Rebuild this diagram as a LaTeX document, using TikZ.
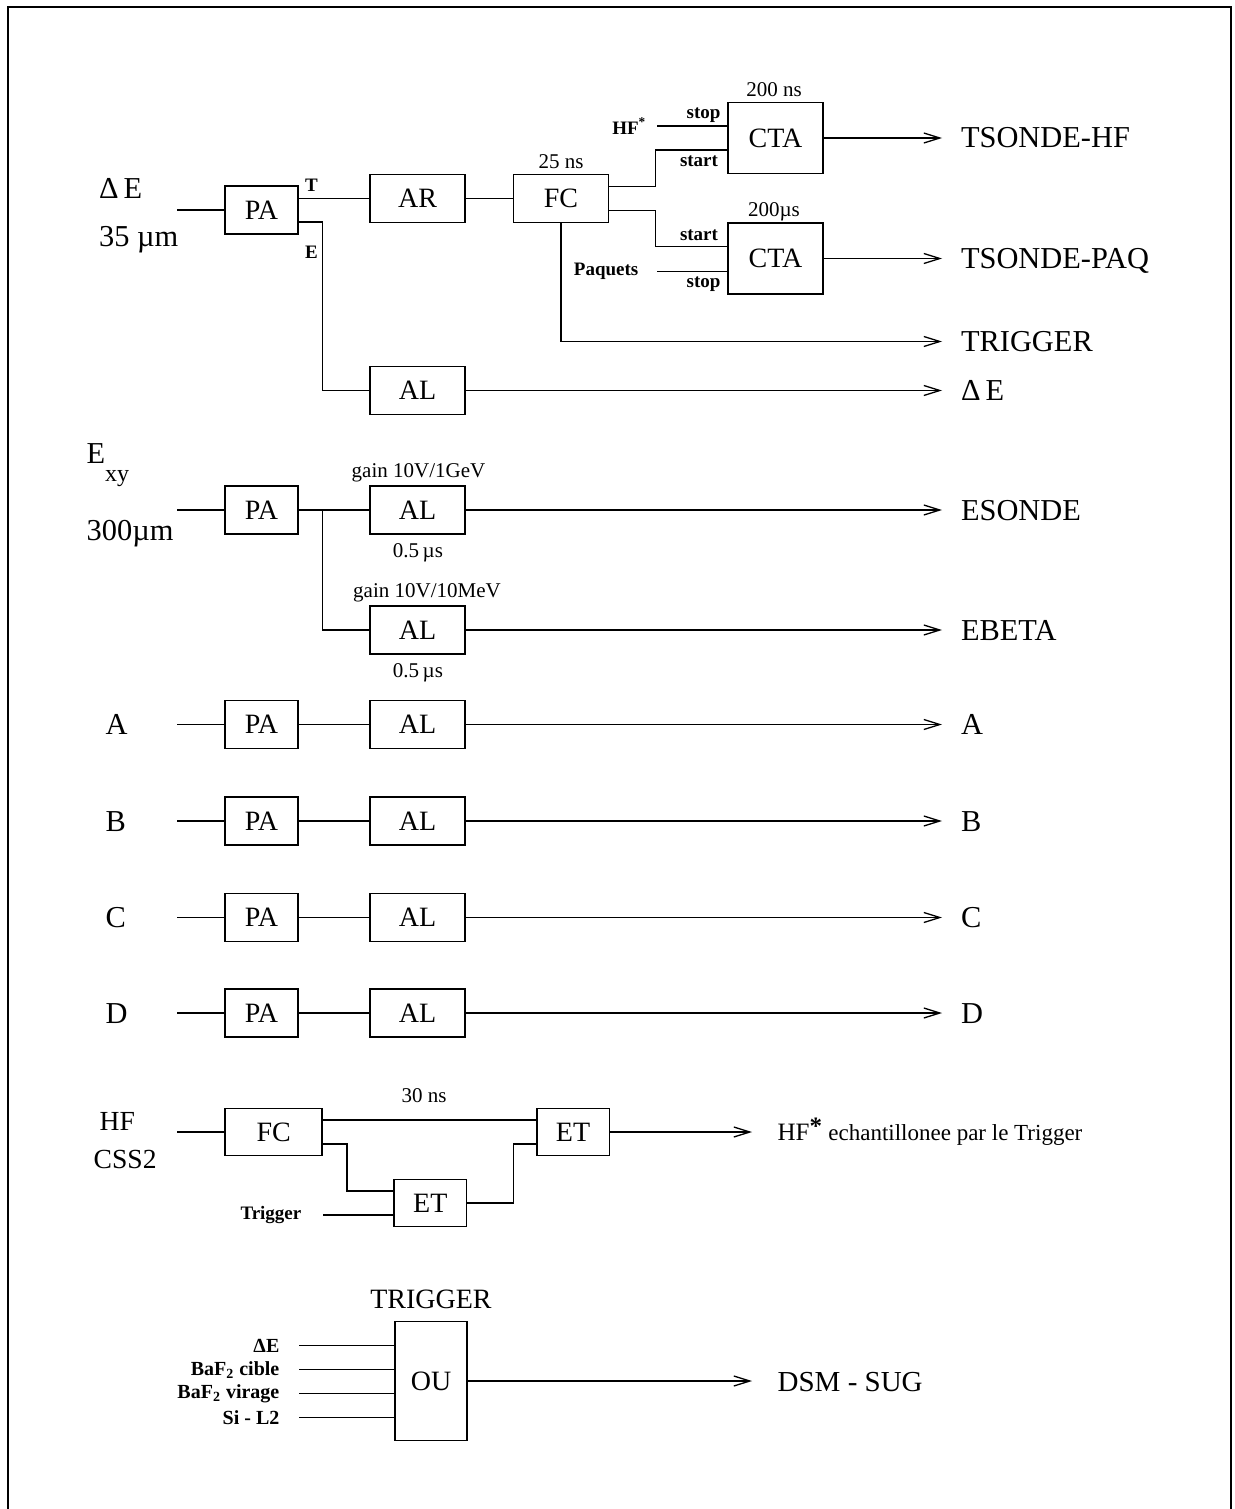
\documentclass[tikz,border=0pt]{standalone}
\usepackage{fontspec}
\setmainfont{Liberation Serif}
\usetikzlibrary{arrows.meta,positioning}

\newcommand*{\xin}{177}
\newcommand*{\xend}{942}
\newcommand*{\xendb}{752}

\begin{document}
\begin{tikzpicture}
[
	x=0.5pt,y=-0.5pt,
	line width=0.65pt,
	box/.style={draw,line width=0.8pt,inner sep=0pt,font=\fontsize{14}{16}\selectfont},
	pabox/.style={box,minimum width=36.5pt,minimum height=24pt},
	widebox/.style={box,minimum width=47.5pt,minimum height=24pt},
	ctabox/.style={box,minimum width=47.5pt,minimum height=35.5pt},
	lbl/.style={inner sep=0pt,anchor=base west,font=\fontsize{15.2}{18}\selectfont},
	outlbl/.style={inner sep=0pt,inner xsep=9.2pt,anchor=west,text height=10pt,text depth=0pt,font=\fontsize{15.2}{18}\selectfont},
	outlblb/.style={outlbl,inner xsep=12.5pt},
	mid/.style={inner sep=0pt,font=\fontsize{10.5}{12}\selectfont},
	small/.style={inner sep=0pt,font=\fontsize{9.5}{11}\selectfont\bfseries},
	sig/.style={-{Straight Barb[length=8pt,width=5pt]}}
]
	\useasboundingbox (0,0) rectangle (1235,1509);

	% frame
	\draw[line width=1pt] (8,1509) -- (8,7) -- (1231,7) -- (1231,1509);

	% Delta E, 35 um
	\node[lbl] (dEl) at (98.5,198) {Δ\,E};
	\node[lbl] (dEt) at (98.5,246) {35 µm};
	\coordinate (in1) at (\xin,210);
	\node[pabox] (pa1) at (261.5,210) {PA};
	\node[widebox] (ar) at (417.5,198.5) {AR};
	\node[widebox] (fc) at (561,198.5) {FC};
	\node[ctabox] (cta1) at (775.5,138) {CTA};
	\node[ctabox] (cta2) at (775.5,258.5) {CTA};
	\node[widebox] (al0) at (417.5,390.5) {AL};
	\node[mid] at (561,162) {25 ns};
	\node[mid] at (774,90) {200 ns};
	\node[mid] at (774,211.5) {200µs};
	\node[small] at (311.5,185) {T};
	\node[small] at (311.5,252.5) {E};
	\node[small] at (703.5,115) {stop};
	\node[small] at (699,161.5) {start};
	\node[small] at (699,235) {start};
	\node[small] at (703.5,284) {stop};
	\coordinate (hfin) at (657,126);
	\coordinate (paqin) at (657,271.5);
	\node[small,left=5pt of hfin] (hfl) {HF\textsuperscript{*}};
	\node[small,left=9pt of paqin] (paql) {Paquets};
	\node[outlbl] (o1) at (\xend,138) {TSONDE-HF};
	\node[outlbl] (o2) at (\xend,258.5) {TSONDE-PAQ};
	\node[outlbl] (o3) at (\xend,341.5) {TRIGGER};
	\node[outlbl] (o4) at (\xend,390.5) {Δ\,E};

	\draw (in1) -- (pa1);
	\draw (pa1.east |- ar) -- (ar);
	\draw (ar) -- (fc);
	\draw ([yshift=6pt]fc.east) -- ++(46,0) |- ([yshift=-6pt]cta1.west);
	\draw ([yshift=-6pt]fc.east) -- ++(46,0) |- ([yshift=6pt]cta2.west);
	\draw (hfin) -- (hfin -| cta1.west);
	\draw (paqin) -- (paqin -| cta2.west);
	\draw ([yshift=-6pt]pa1.east) -- ++(24,0) |- (al0);
	\draw[sig] (cta1) -- (o1);
	\draw[sig] (cta2) -- (o2);
	\draw[sig] (fc) |- (o3);
	\draw[sig] (al0) -- (o4);

	% E_xy, 300 um
	\node[lbl] (exl) at (86,463) {E\raisebox{-9pt}{\fontsize{12}{12}\selectfont xy}};
	\node[lbl] (ext) at (86,540) {300µm};
	\coordinate (in2) at (\xin,510);
	\node[pabox] (pa2) at (261.5,510) {PA};
	\node[widebox] (al1) at (417.5,510) {AL};
	\node[widebox] (al2) at (417.5,630) {AL};
	\node[mid] at (418.5,473) {gain 10V/1GeV};
	\node[mid] at (418,553) {0.5\,µs};
	\node[mid] at (427,593) {gain 10V/10MeV};
	\node[mid] at (418,673) {0.5\,µs};
	\node[outlbl] (o5) at (\xend,510) {ESONDE};
	\node[outlbl] (o6) at (\xend,630) {EBETA};

	\draw (in2) -- (pa2) -- (al1);
	\draw (pa2.east) -- ++(24,0) |- (al2);
	\draw[sig] (al1) -- (o5);
	\draw[sig] (al2) -- (o6);

	% A to D
	\foreach \n/\y in {A/724.5,B/821,C/917.5,D/1013}
	{
		\node[lbl] (l\n) at (105,{\y+10}) {\n};
		\coordinate (i\n) at (\xin,\y);
		\node[pabox] (pa\n) at (261.5,\y) {PA};
		\node[widebox] (al\n) at (417.5,\y) {AL};
		\node[outlbl] (o\n) at (\xend,\y) {\n};
		\draw (i\n) -- (pa\n) -- (al\n);
		\draw[sig] (al\n) -- (o\n);
	}

	% HF, CSS2
	\node[lbl,font=\fontsize{13.8}{16}\selectfont] (hfl2) at (99,1130) {HF};
	\node[lbl,font=\fontsize{13.8}{16}\selectfont] (cssl) at (93,1168) {CSS2};
	\coordinate (in3) at (\xin,1132);
	\node[box,minimum width=48.5pt,minimum height=23.5pt] (fc2) at (273.7,1132) {FC};
	\node[box,minimum width=36.3pt,minimum height=23.5pt] (et1) at (573,1132) {ET};
	\node[box,minimum width=36.3pt,minimum height=23.5pt] (et2) at (430.3,1203) {ET};
	\node[mid] at (424,1096) {30 ns};
	\coordinate (trin) at (323,1215);
	\node[small,left=10.5pt of trin] (trl) {Trigger};
	\node[outlblb,text height=8pt,font=\fontsize{12.5}{14}\selectfont] (o7) at (\xendb,1132)
		{HF\raisebox{3pt}{\bfseries *} {\fontsize{11.5}{13}\selectfont echantillonee par le Trigger}};

	\draw (in3) -- (fc2);
	\draw ([yshift=6pt]fc2.east) -- ([yshift=6pt]et1.west);
	\draw ([yshift=-6pt]fc2.east) -- ++(24,0) |- ([yshift=6pt]et2.west);
	\draw (trin) -- (trin -| et2.west);
	\draw (et2.east) -- ++(46,0) |- ([yshift=-6pt]et1.west);
	\draw[sig] (et1) -- (o7);

	% trigger
	\node[box,minimum width=36pt,minimum height=59.5pt] (ou) at (431,1381) {OU};
	\node[inner sep=0pt,above=5.5pt of ou,font=\fontsize{14}{16}\selectfont] (trt) {TRIGGER};
	\foreach \t [count=\i] in {ΔE, BaF\textsubscript{2} cible, BaF\textsubscript{2} virage, Si - L2}
	{
		\coordinate (u\i) at (299,{1321.7+24*\i});
		\node[small,font=\fontsize{10}{12}\selectfont\bfseries,left=9.5pt of u\i] {\t};
		\draw (u\i) -- (u\i -| ou.west);
	}
	\node[outlblb,font=\fontsize{14.5}{16}\selectfont] (o8) at (\xendb,1381) {DSM - SUG};
	\draw[sig] (ou) -- (o8);

\end{tikzpicture}
\end{document}
